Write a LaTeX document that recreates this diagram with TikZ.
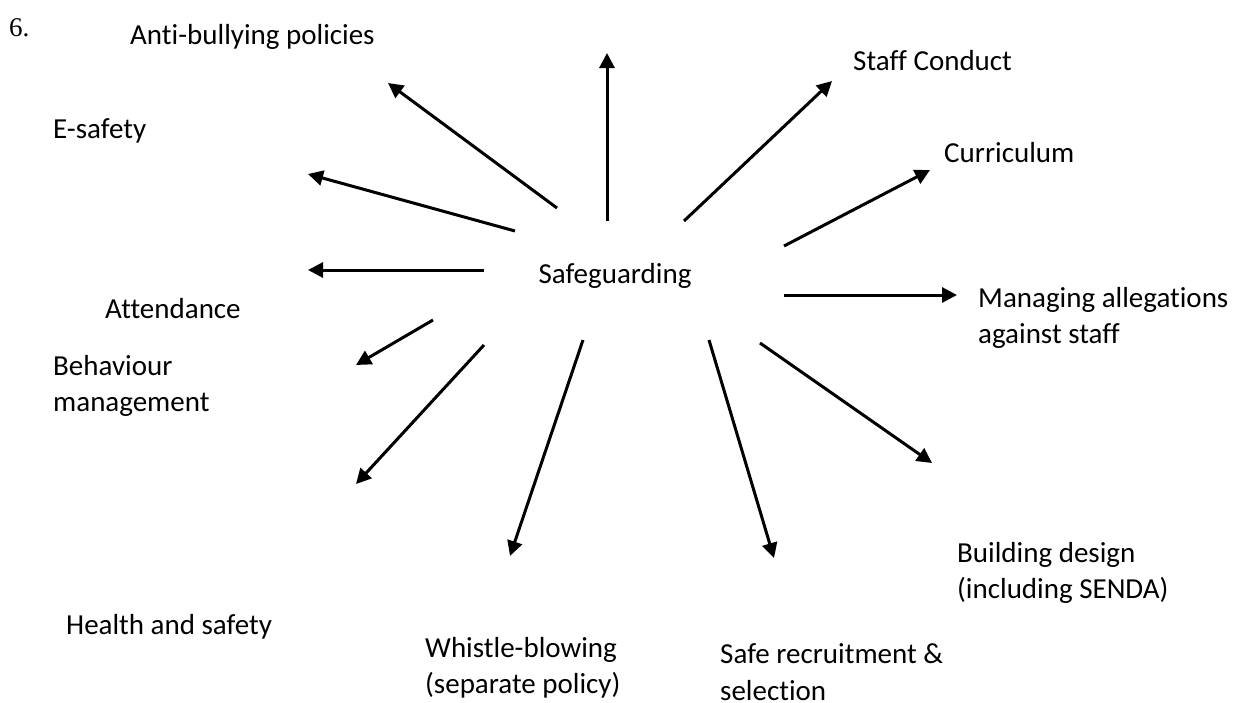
\documentclass[tikz,border=0pt]{standalone}
\usepackage{fontspec}
\setmainfont{Carlito}[Ligatures=NoCommon]
\newfontfamily\numfont{Liberation Serif}
\usetikzlibrary{arrows.meta}
\begin{document}
\begin{tikzpicture}[x=1pt,y=-1pt,
  lbl/.style={inner sep=0pt,anchor=west,align=left,font=\fontsize{29}{36.5}\selectfont},
  arr/.style={line width=3pt,-{Triangle[length=15pt,width=15pt]}}]
\useasboundingbox (0,0) rectangle (1234,702);
\node[inner sep=0pt,anchor=west,font=\numfont\fontsize{27}{30}\selectfont] (six) at (9,28) {6.};
\node[inner sep=0pt,font=\fontsize{29}{36.5}\selectfont] (safe) at (615,276) {Safeguarding};
\node[lbl] (anti) at (130,37) {Anti-bullying policies};
\node[lbl] (staff) at (853,61) {Staff Conduct};
\node[lbl] (esafety) at (53,131) {E-safety};
\node[lbl] (curric) at (944,153) {Curriculum};
\node[lbl] (attend) at (105,309) {Attendance};
\node[lbl] (manage) at (978,318) {Managing allegations\\against staff};
\node[lbl] (behav) at (53,386) {Behaviour\\management};
\node[lbl] (health) at (66,627) {Health and safety};
\node[lbl] (build) at (957,573) {Building design\\(including SENDA)};
\node[lbl] (whistle) at (425,668) {Whistle-blowing\\(separate policy)};
\node[lbl] (saferec) at (720,672) {Safe recruitment \&\\selection};
% arrow start and end points
\coordinate (s1) at (607,221); \coordinate (e1) at (607,53);
\coordinate (s2) at (557,208); \coordinate (e2) at (388,83);
\coordinate (s3) at (684,221); \coordinate (e3) at (832,81);
\coordinate (s4) at (515,231); \coordinate (e4) at (308,174);
\coordinate (s5) at (784,246); \coordinate (e5) at (930,170);
\coordinate (s6) at (484,270); \coordinate (e6) at (308,270);
\coordinate (s7) at (784,295); \coordinate (e7) at (957,295);
\coordinate (s8) at (433,320); \coordinate (e8) at (356,365);
\coordinate (s9) at (484,345); \coordinate (e9) at (356,484);
\coordinate (s10) at (760,343); \coordinate (e10) at (932,463);
\coordinate (s11) at (583,340); \coordinate (e11) at (510,556);
\coordinate (s12) at (709,340); \coordinate (e12) at (774,558);
\foreach \i in {1,...,12} {\draw[arr] (s\i) -- (e\i);}
\end{tikzpicture}
\end{document}
